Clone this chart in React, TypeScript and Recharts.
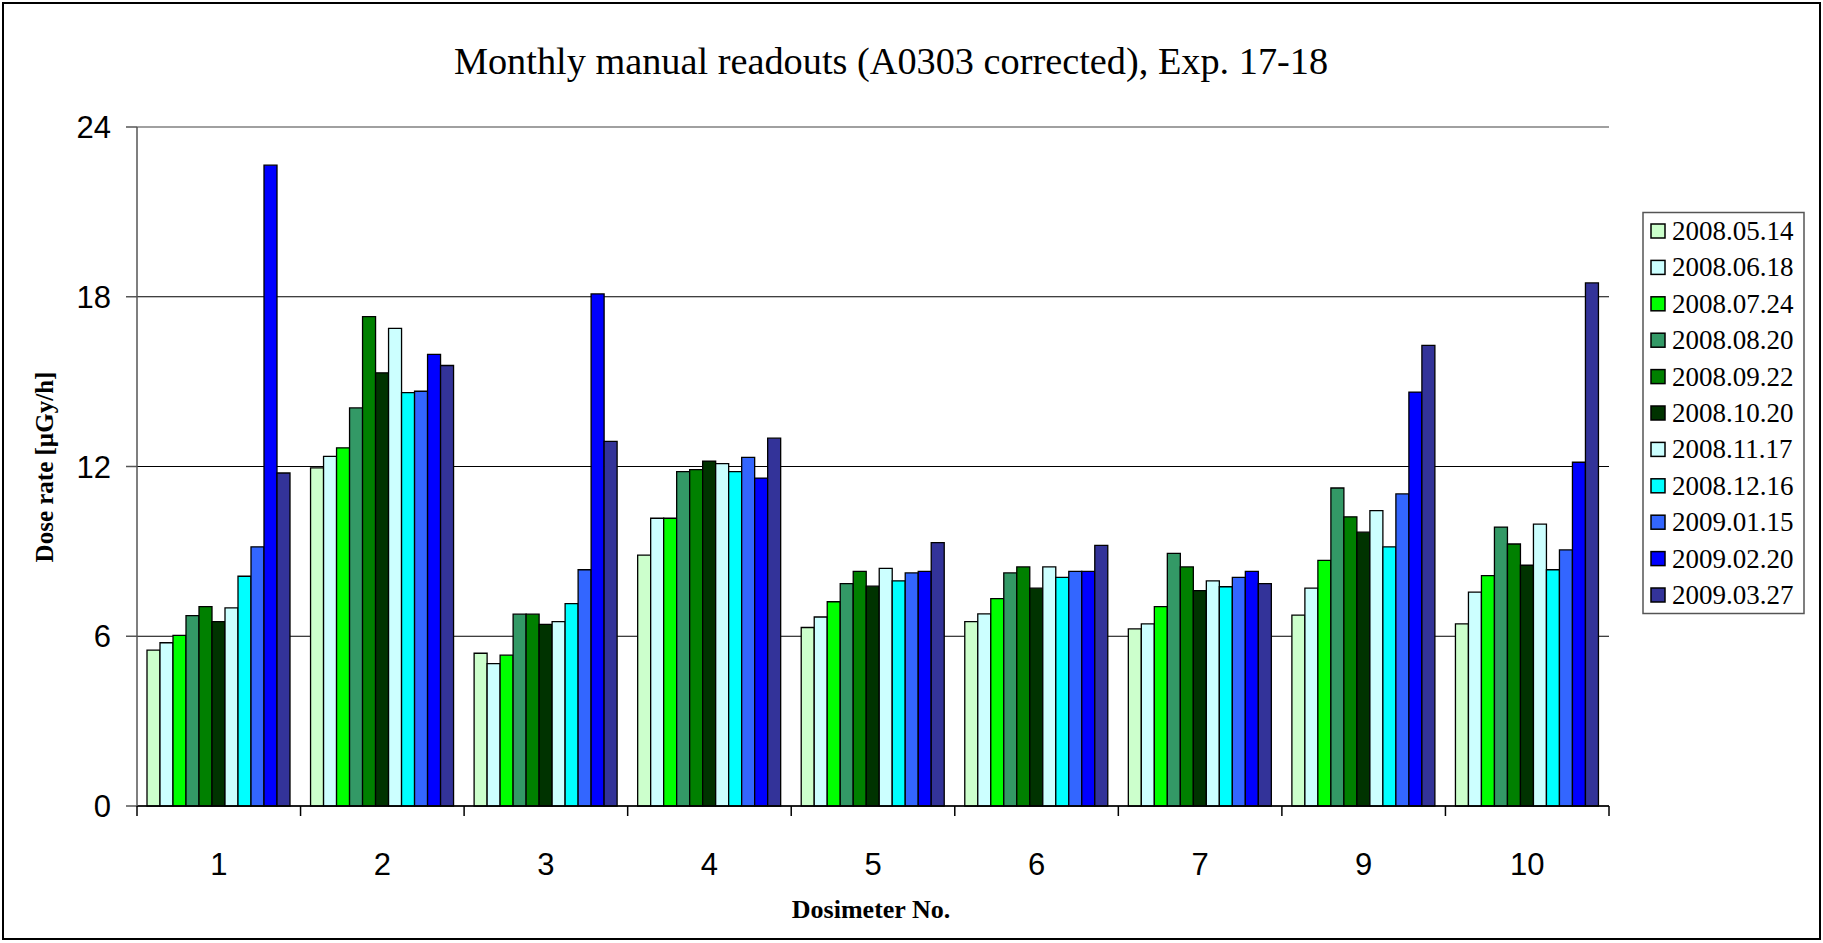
import { BarChart, Bar, XAxis, YAxis, CartesianGrid, ReferenceLine } from 'recharts';

const dosimeters = ['1', '2', '3', '4', '5', '6', '7', '9', '10'];
const readoutDates = [
  '2008.05.14', '2008.06.18', '2008.07.24', '2008.08.20', '2008.09.22', '2008.10.20',
  '2008.11.17', '2008.12.16', '2009.01.15', '2009.02.20', '2009.03.27',
];
const colors = [
  '#CCFFCC', '#CCFFFF', '#00FF00', '#339966', '#008000', '#003300',
  '#CCFFFF', '#00FFFF', '#3366FF', '#0000FF', '#333399',
];

// dose rate per readout, one value per dosimeter (1,2,3,4,5,6,7,9,10)
const r080514 = [5.51, 11.95, 5.40, 8.87, 6.31, 6.52, 6.26, 6.75, 6.44];
const r080618 = [5.77, 12.36, 5.03, 10.17, 6.68, 6.79, 6.44, 7.70, 7.56];
const r080724 = [6.03, 12.66, 5.33, 10.17, 7.22, 7.33, 7.05, 8.68, 8.14];
const r080820 = [6.73, 14.07, 6.78, 11.82, 7.86, 8.24, 8.93, 11.24, 9.86];
const r080922 = [7.05, 17.30, 6.78, 11.89, 8.29, 8.45, 8.45, 10.22, 9.26];
const r081020 = [6.52, 15.31, 6.42, 12.19, 7.77, 7.70, 7.61, 9.68, 8.51];
const r081117 = [7.00, 16.88, 6.52, 12.10, 8.40, 8.45, 7.96, 10.44, 9.96];
const r081216 = [8.12, 14.61, 7.15, 11.82, 7.96, 8.08, 7.75, 9.16, 8.35];
const r090115 = [9.16, 14.66, 8.35, 12.32, 8.24, 8.29, 8.08, 11.03, 9.05];
const r090220 = [22.65, 15.96, 18.10, 11.59, 8.29, 8.29, 8.29, 14.63, 12.15];
const r090327 = [11.77, 15.57, 12.89, 13.00, 9.31, 9.21, 7.86, 16.28, 18.49];

const series = [
  r080514, r080618, r080724, r080820, r080922, r081020,
  r081117, r081216, r090115, r090220, r090327,
];
const yTicks = [0, 6, 12, 18, 24];

const data = dosimeters.map((name, i) => {
  const row: Record<string, string | number> = { name };
  series.forEach((s, k) => { row[`s${k}`] = s[i]; });
  return row;
});

const W = 1823;
const H = 943;
const PLOT_LEFT = 137;
const PLOT_RIGHT = 1609;
const PLOT_TOP = 127;
const PLOT_BOTTOM = 806;
const BAND = (PLOT_RIGHT - PLOT_LEFT) / dosimeters.length;
const Y_AXIS_W = 60;
const X_AXIS_H = 60;

const serif = '"Liberation Serif", "Times New Roman", serif';
const sans = '"Liberation Sans", Arial, sans-serif';

function DosimeterTick(props: any) {
  const { x, payload, index } = props;
  const half = BAND / 2;
  return (
    <g>
      <line x1={x - half} x2={x - half} y1={PLOT_BOTTOM} y2={PLOT_BOTTOM + 10} stroke="#000" strokeWidth={1.5} />
      {index === dosimeters.length - 1 && (
        <line x1={x + half} x2={x + half} y1={PLOT_BOTTOM} y2={PLOT_BOTTOM + 10} stroke="#000" strokeWidth={1.5} />
      )}
      <text x={x} y={875} textAnchor="middle" fontFamily={sans} fontSize={31} fill="#000">
        {payload.value}
      </text>
    </g>
  );
}

export default function App() {
  return (
    <div style={{ position: 'absolute', left: 0, top: 0, width: W, height: H, background: '#fff' }}>
      <BarChart
        width={W}
        height={H}
        data={data}
        barGap={0}
        barCategoryGap={10}
        margin={{
          top: PLOT_TOP,
          right: W - PLOT_RIGHT,
          bottom: H - PLOT_BOTTOM - X_AXIS_H,
          left: PLOT_LEFT - Y_AXIS_W,
        }}
      >
        <CartesianGrid vertical={false} stroke="#000" strokeWidth={1} />
        <XAxis
          dataKey="name"
          interval={0}
          height={X_AXIS_H}
          tickLine={false}
          tickSize={10}
          tickMargin={0}
          axisLine={{ stroke: '#000', strokeWidth: 1.5 }}
          tick={<DosimeterTick />}
        />
        <YAxis
          domain={[0, 24]}
          ticks={yTicks}
          width={Y_AXIS_W}
          tickSize={11}
          tickMargin={15}
          axisLine={{ stroke: '#555', strokeWidth: 1.5 }}
          tickLine={{ stroke: '#555', strokeWidth: 1.5 }}
          tick={{ fontSize: 31, fill: '#000', fontFamily: sans }}
        />
        <YAxis
          yAxisId="frame"
          orientation="right"
          width={0}
          tick={false}
          tickLine={false}
          axisLine={{ stroke: '#a0a0a0', strokeWidth: 2 }}
        />
        <ReferenceLine y={24} stroke="#a0a0a0" strokeWidth={2} />
        {series.map((_, k) => (
          <Bar
            key={readoutDates[k]}
            dataKey={`s${k}`}
            name={readoutDates[k]}
            fill={colors[k]}
            stroke="#000"
            strokeWidth={1.3}
            isAnimationActive={false}
          />
        ))}
      </BarChart>
      <svg width={W} height={H} style={{ position: 'absolute', left: 0, top: 0, pointerEvents: 'none' }}>
        <rect x={3} y={3} width={W - 6} height={H - 7} fill="none" stroke="#000" strokeWidth={2} />
        <text x={891} y={74} textAnchor="middle" fontFamily={serif} fontSize={38.3} fill="#000">
          Monthly manual readouts (A0303 corrected), Exp. 17-18
        </text>
        <text
          x={44}
          y={467}
          transform="rotate(-90 44 467)"
          textAnchor="middle"
          dominantBaseline="central"
          fontFamily={serif}
          fontWeight="bold"
          fontSize={25}
          fill="#000"
        >
          Dose rate [µGy/h]
        </text>
        <text x={871} y={918} textAnchor="middle" fontFamily={serif} fontWeight="bold" fontSize={26} fill="#000">
          Dosimeter No.
        </text>
        <rect x={1643} y={212.5} width={161} height={401} fill="#fff" stroke="#555" strokeWidth={1.5} />
        {readoutDates.map((d, i) => {
          const cy = 231 + i * 36.4;
          return (
            <g key={d}>
              <rect x={1651} y={cy - 7} width={14} height={14} fill={colors[i]} stroke="#000" strokeWidth={1.5} />
              <text x={1672} y={cy + 9} fontFamily={serif} fontSize={27} fill="#000">
                {d}
              </text>
            </g>
          );
        })}
      </svg>
    </div>
  );
}
